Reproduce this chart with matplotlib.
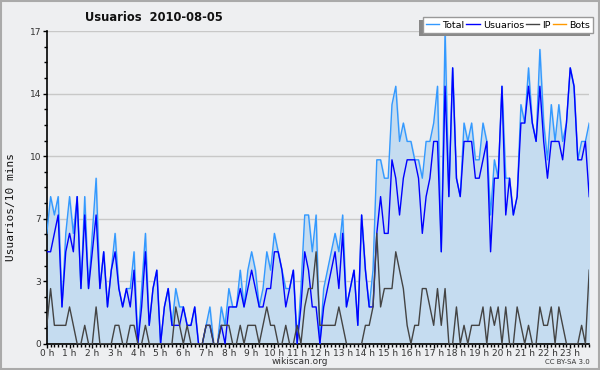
import numpy as np
import matplotlib.pyplot as plt
from matplotlib.patches import Rectangle

# values per 10 minutes, 2010-08-05
total = [6, 8, 7, 8, 2, 6, 8, 6, 8, 3, 8, 3, 6, 9, 3, 5, 2, 4, 6, 3, 2, 3, 3, 5,
         0, 3, 6, 1, 3, 4, 0, 2, 3, 1, 3, 2, 2, 1, 1, 2, 0, 0, 1, 2, 0, 0, 2, 1,
         3, 2, 2, 4, 2, 4, 5, 4, 2, 3, 5, 4, 6, 5, 4, 3, 3, 4, 0, 3, 7, 7, 5, 7,
         0, 3, 4, 5, 6, 5, 7, 2, 3, 4, 1, 7, 4, 2, 4, 10, 10, 9, 9, 13, 14, 11, 12, 11,
         11, 10, 10, 9, 11, 11, 12, 14, 5, 17, 8, 15, 9, 8, 12, 11, 12, 10, 10, 12, 11, 7, 10, 9,
         14, 9, 9, 7, 8, 13, 12, 15, 12, 11, 16, 12, 10, 13, 11, 13, 11, 12, 15, 14, 10, 11, 11, 12]
usuarios = [5, 5, 6, 7, 2, 5, 6, 5, 8, 3, 7, 3, 5, 7, 3, 5, 2, 4, 5, 3, 2, 3, 2, 4,
            0, 2, 5, 1, 3, 4, 0, 2, 3, 1, 1, 1, 2, 1, 1, 2, 0, 0, 1, 1, 0, 0, 1, 0,
            2, 2, 2, 3, 2, 3, 4, 3, 2, 2, 3, 3, 5, 5, 4, 2, 3, 4, 0, 2, 5, 4, 2, 2,
            0, 2, 3, 4, 5, 3, 6, 2, 3, 4, 1, 7, 4, 2, 2, 6, 8, 6, 6, 10, 9, 7, 9, 10,
            10, 10, 9, 6, 8, 9, 11, 11, 5, 14, 8, 15, 9, 8, 11, 11, 11, 9, 9, 10, 11, 5, 9, 9,
            14, 7, 9, 7, 8, 12, 12, 14, 12, 11, 14, 11, 9, 11, 11, 11, 10, 12, 15, 14, 10, 10, 11, 8]
ip = [1, 3, 1, 1, 1, 1, 2, 1, 0, 0, 1, 0, 0, 2, 0, 0, 0, 0, 1, 1, 0, 0, 1, 1,
      0, 0, 1, 0, 0, 0, 0, 0, 0, 0, 2, 1, 0, 1, 0, 0, 0, 0, 1, 1, 0, 0, 1, 1,
      1, 0, 0, 1, 0, 1, 1, 1, 0, 1, 2, 1, 1, 0, 0, 1, 0, 0, 1, 0, 2, 3, 3, 5,
      1, 1, 1, 1, 1, 2, 1, 0, 0, 0, 0, 0, 1, 1, 2, 6, 2, 3, 3, 3, 5, 4, 3, 1,
      0, 1, 1, 3, 3, 2, 1, 3, 1, 3, 0, 0, 2, 0, 1, 0, 1, 1, 1, 2, 0, 2, 1, 2,
      0, 2, 0, 0, 2, 1, 0, 1, 0, 0, 2, 1, 1, 2, 0, 2, 1, 0, 0, 0, 0, 1, 0, 4]
bots = [0] * 144

hours = [f"{h} h" for h in range(24)]

x = np.arange(len(total))

fig = plt.figure(figsize=(6, 3.7), dpi=100, facecolor='#eeeff1')
fig.patches.append(Rectangle((0.002, 0.003), 0.996, 0.994, transform=fig.transFigure,
                             fill=False, edgecolor='#aaaaaa', linewidth=1.5))
ax = fig.add_axes([0.078, 0.071, 0.904, 0.845])
ax.set_facecolor('#eeeff1')

ax.fill_between(x, total, color='#c5dcf0', zorder=1)
lb, = ax.plot(x, bots, color='#ff9900', lw=1, zorder=2)
lt, = ax.plot(x, total, color='#3399ff', lw=1, zorder=3)
lu, = ax.plot(x, usuarios, color='#0000ff', lw=1, zorder=4)
lp, = ax.plot(x, ip, color='#444444', lw=1, zorder=5)

ax.set_xlim(0, len(total) - 1)
ax.set_ylim(0, 17)

yt = np.linspace(0, 17, 6)
ax.set_yticks(yt)
ax.set_yticklabels([str(int(round(v))) for v in yt])
ax.set_yticks(np.arange(0, 17.01, 0.85), minor=True)
ax.set_xticks(np.arange(0, 144, 6))
ax.set_xticklabels(hours)
ax.set_xticks(np.arange(0, 144, 1), minor=True)

ax.grid(axis='y', color='#c8c8c8', lw=1, zorder=0)
ax.set_axisbelow(True)
ax.tick_params(axis='both', which='major', labelsize=6.5, colors='#000000', labelcolor='#333333',
               length=3, width=1, pad=1)
ax.tick_params(axis='both', which='minor', length=2.5, width=1)
for s in ['top', 'right']:
    ax.spines[s].set_visible(False)
for s in ['left', 'bottom']:
    ax.spines[s].set_linewidth(1.2)

fig.text(0.019, 0.44, 'Usuarios/10 mins', family='DejaVu Sans Mono', fontsize=8,
         rotation=90, ha='center', va='center', color='#111111')
fig.text(0.142, 0.954, 'Usuarios  2010-08-05', fontsize=8.3, fontweight='bold',
         color='#111111', va='center')

# legend box (pixel rows counted from the top): white frame rows 17-33,
# shadow only as a left strip and a bottom strip
W, H = 600.0, 370.0


def px_rect(x0, x1, r0, r1, **kw):
    return Rectangle((x0 / W, 1 - r1 / H), (x1 - x0) / W, (r1 - r0) / H,
                     transform=fig.transFigure, **kw)


fig.patches.append(px_rect(419, 423, 20, 36, facecolor='#888888', edgecolor='none', zorder=8))
fig.patches.append(px_rect(419, 590, 33, 36, facecolor='#888888', edgecolor='none', zorder=8))
fig.patches.append(px_rect(423, 593, 17, 33, facecolor='white', edgecolor='#999999',
                           lw=1, zorder=9))
leg = fig.legend([lt, lu, lp, lb], ['Total', 'Usuarios', 'IP', 'Bots'], ncol=4,
                 loc='center', bbox_to_anchor=(508 / W, 1 - 25 / H), fontsize=6.8,
                 frameon=False, handlelength=1.4, handletextpad=0.35,
                 columnspacing=0.2, borderpad=0.1, borderaxespad=0)
leg.set_zorder(10)

fig.text(0.5, 0.022, 'wikiscan.org', ha='center', va='center', fontsize=6.5, color='#333333')
fig.text(0.983, 0.022, 'CC BY-SA 3.0', ha='right', va='center', fontsize=5, color='#333333')

fig.savefig('out.png', dpi=100, facecolor=fig.get_facecolor())
